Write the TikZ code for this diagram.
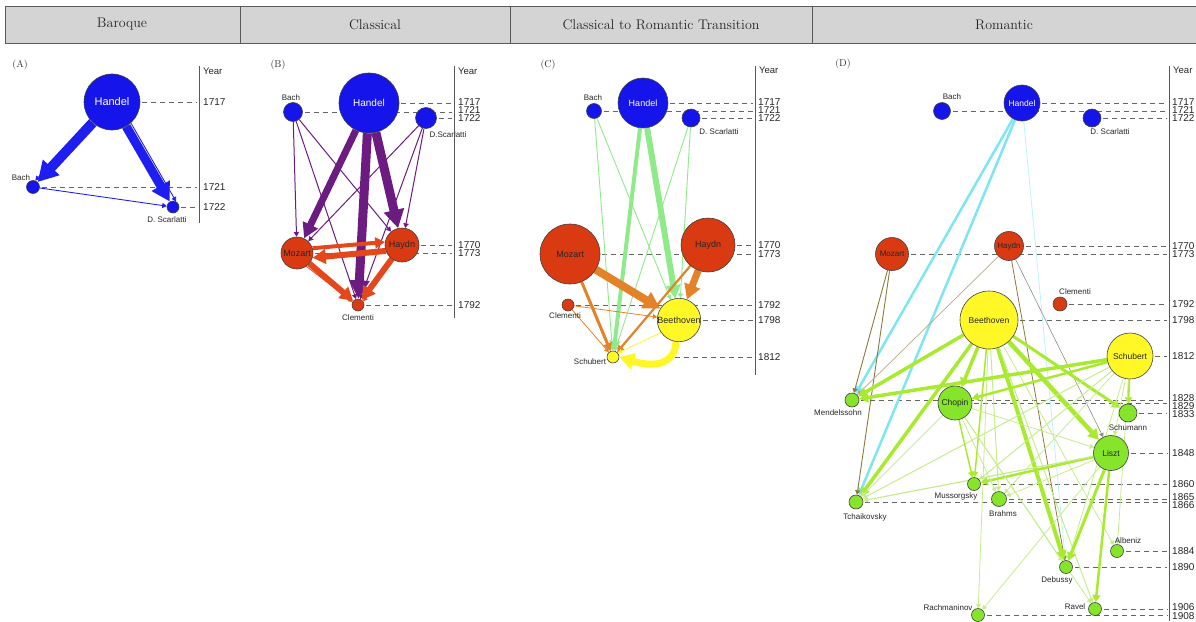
\documentclass[tikz,border=0pt]{standalone}
\usepackage{fontspec}
\setsansfont{Liberation Sans}
\usetikzlibrary{arrows.meta}
\newcommand\fsz[1]{\fontsize{#1}{#1}\selectfont}

\definecolor{hdrgray}{HTML}{D4D4D4}
\definecolor{nblue}{HTML}{1414EB}
\definecolor{nred}{HTML}{DA3A12}
\definecolor{nyel}{HTML}{FFF826}
\definecolor{ngreen}{HTML}{86E42A}
\definecolor{eblue}{HTML}{1E1EF0}
\definecolor{epurple}{HTML}{6C1C80}
\definecolor{ered}{HTML}{E5471D}
\definecolor{egreen}{HTML}{8FEA8A}
\definecolor{eorange}{HTML}{E4822A}
\definecolor{eyellow}{HTML}{FFF626}
\definecolor{ecyan}{HTML}{7DE6F0}
\definecolor{ecyanlt}{HTML}{BDF2F6}
\definecolor{elime}{HTML}{A8EA2E}
\definecolor{elimelt}{HTML}{C6EC8E}
\definecolor{eolive}{HTML}{8C7A3C}
\definecolor{etan}{HTML}{B8A888}

\pgfdeclarelayer{guides}
\pgfdeclarelayer{links}
\pgfsetlayers{guides,links,main}

\tikzset{
  comp/.style={circle, draw=black!75, line width=0.6pt, inner sep=0pt,
    font=\sffamily\fsz{8}, text=black!85},
  bn/.style={comp, fill=nblue},
  rn/.style={comp, fill=nred},
  yn/.style={comp, fill=nyel},
  gn/.style={comp, fill=ngreen},
  lab/.style={font=\sffamily\fsz{8}, text=black!85, inner sep=0pt},
  guide/.style={draw=black!60, line width=0.8pt, dash pattern=on 5pt off 4pt,
    shorten <=2pt, shorten >=2pt},
  axisline/.style={draw=black!65, line width=1pt},
  yrlab/.style={font=\sffamily\fsz{10}, anchor=west, inner sep=0pt, text=black!85},
  yrhead/.style={font=\sffamily\fsz{9.5}, anchor=west, inner sep=0pt, text=black!85},
  link/.style={-{Triangle[length=3pt 1.7, width=3.5pt 1.8]}},
  hdr/.style={font=\fsz{14}, text=black!85},
  plab/.style={font=\fsz{10}, text=black!80, inner sep=0pt},
}

\begin{document}
\begin{tikzpicture}[x=1pt,y=-1pt]
\useasboundingbox (0,0) rectangle (1196,621);

% ---------- period header ----------
\draw[fill=hdrgray, draw=black!65, line width=0.8pt] (5,6) rectangle (1200,43);
\draw[black!65, line width=0.8pt] (240,6) -- (240,43) (510,6) -- (510,43) (812,6) -- (812,43);
\node[hdr] (hBaroque) at (122,24.5) {Baroque};
\node[hdr] (hClassical) at (375,24.5) {Classical};
\node[hdr] (hTransition) at (661,24.5) {Classical to Romantic Transition};
\node[hdr] (hRomantic) at (1004,24.5) {Romantic};

% ---------- panel A ----------
\node[plab] (pA) at (20,65) {(A)};
\node[bn, minimum size=56pt, font=\sffamily\fsz{11}, text=white] (AHan) at (112,102) {Handel};
\node[bn, minimum size=13pt] (ABach) at (33,187) {};
\node[lab] (ABachL) at (21,178) {Bach};
\node[bn, minimum size=12pt] (AScar) at (173,207) {};
\node[lab] (AScarL) at (167,220) {D. Scarlatti};
\coordinate (axA) at (199,0);
\draw[axisline] (199,66) -- (199,223);
\node[yrhead] (AYear) at (203,71) {Year};
\node[yrlab] (A1717) at (203,102) {1717};
\node[yrlab] (A1721) at (203,187) {1721};
\node[yrlab] (A1722) at (203,207) {1722};

% ---------- panel B ----------
\node[plab] (pB) at (278,65) {(B)};
\node[bn, minimum size=60pt, font=\sffamily\fsz{10}, text=white] (BHan) at (369,103) {Handel};
\node[bn, minimum size=19pt] (BBach) at (293,112) {};
\node[lab] (BBachL) at (291,98) {Bach};
\node[bn, minimum size=21pt] (BScar) at (426,118) {};
\node[lab] (BScarL) at (448,135) {D.Scarlatti};
\node[rn, minimum size=32pt, font=\sffamily\fsz{9}] (BMoz) at (297,253) {Mozart};
\node[rn, minimum size=34pt, font=\sffamily\fsz{9}] (BHay) at (402,245) {Haydn};
\node[rn, minimum size=12pt] (BCle) at (358,305) {};
\node[lab] (BCleL) at (358,318) {Clementi};
\coordinate (axB) at (454,0);
\draw[axisline] (454,66) -- (454,318);
\node[yrhead] (BYear) at (458,71) {Year};
\node[yrlab] (B1717) at (458,102) {1717};
\node[yrlab] (B1721) at (458,110) {1721};
\node[yrlab] (B1722) at (458,118) {1722};
\node[yrlab] (B1770) at (458,245) {1770};
\node[yrlab] (B1773) at (458,253) {1773};
\node[yrlab] (B1792) at (458,305) {1792};

% ---------- panel C ----------
\node[plab] (pC) at (548,65) {(C)};
\node[bn, minimum size=50pt, font=\sffamily\fsz{9}, text=white] (CHan) at (643,103) {Handel};
\node[bn, minimum size=15pt] (CBach) at (594,111) {};
\node[lab] (CBachL) at (593,98) {Bach};
\node[bn, minimum size=18pt] (CScar) at (691,118) {};
\node[lab] (CScarL) at (719,132) {D. Scarlatti};
\node[rn, minimum size=60pt, font=\sffamily\fsz{9}] (CMoz) at (570,254) {Mozart};
\node[rn, minimum size=54pt, font=\sffamily\fsz{9}] (CHay) at (708,245) {Haydn};
\node[rn, minimum size=12pt] (CCle) at (568,305) {};
\node[lab] (CCleL) at (565,316) {Clementi};
\node[yn, minimum size=40pt, font=\sffamily\fsz{9}] (CBee) at (679,320) {Beethoven};
\node[yn, minimum size=12pt] (CSch) at (613,357) {};
\node[lab] (CSchL) at (590,362) {Schubert};
\coordinate (axC) at (755,0);
\draw[axisline] (755,66) -- (755,375);
\node[yrhead] (CYear) at (759,70) {Year};
\node[yrlab] (C1717) at (758,102) {1717};
\node[yrlab] (C1721) at (758,110) {1721};
\node[yrlab] (C1722) at (758,118) {1722};
\node[yrlab] (C1770) at (758,245) {1770};
\node[yrlab] (C1773) at (758,254) {1773};
\node[yrlab] (C1792) at (758,305) {1792};
\node[yrlab] (C1798) at (758,320) {1798};
\node[yrlab] (C1812) at (758,357) {1812};

% ---------- panel D ----------
\node[plab] (pD) at (843,64) {(D)};
\node[bn, minimum size=17pt] (DBach) at (942,111) {};
\node[lab] (DBachL) at (952,97) {Bach};
\node[bn, minimum size=36pt, font=\sffamily\fsz{8.5}, text=white] (DHan) at (1022,103) {Handel};
\node[bn, minimum size=18pt] (DScar) at (1092,118) {};
\node[lab] (DScarL) at (1110,132) {D. Scarlatti};
\node[rn, minimum size=29pt] (DHay) at (1009,246) {Haydn};
\node[rn, minimum size=33pt] (DMoz) at (892,254) {Mozart};
\node[rn, minimum size=14pt] (DCle) at (1060,304) {};
\node[lab] (DCleL) at (1075,292) {Clementi};
\node[yn, minimum size=58pt, font=\sffamily\fsz{8.5}] (DBee) at (989,320) {Beethoven};
\node[yn, minimum size=46pt, font=\sffamily\fsz{8.5}] (DSch) at (1130,356) {Schubert};
\node[gn, minimum size=14pt] (DMen) at (852,400) {};
\node[lab] (DMenL) at (838,413) {Mendelssohn};
\node[gn, minimum size=34pt, font=\sffamily\fsz{8.5}] (DCho) at (955,403) {Chopin};
\node[gn, minimum size=18pt] (DSchu) at (1128,413) {};
\node[lab] (DSchuL) at (1128,428) {Schumann};
\node[gn, minimum size=35pt, font=\sffamily\fsz{8.5}] (DLis) at (1111,453) {Liszt};
\node[gn, minimum size=13pt] (DMus) at (974,484) {};
\node[lab] (DMusL) at (956,496) {Mussorgsky};
\node[gn, minimum size=15pt] (DBra) at (999,499) {};
\node[lab] (DBraL) at (1003,514) {Brahms};
\node[gn, minimum size=14pt] (DTch) at (856,502) {};
\node[lab] (DTchL) at (865,517) {Tchaikovsky};
\node[gn, minimum size=13pt] (DAlb) at (1117,551) {};
\node[lab] (DAlbL) at (1128,541) {Albeniz};
\node[gn, minimum size=13pt] (DDeb) at (1066,567) {};
\node[lab] (DDebL) at (1057,580) {Debussy};
\node[gn, minimum size=13pt] (DRav) at (1095,609) {};
\node[lab] (DRavL) at (1075,607) {Ravel};
\node[gn, minimum size=13pt] (DRac) at (978,615) {};
\node[lab] (DRacL) at (948,608) {Rachmaninov};
\coordinate (axD) at (1169,0);
\draw[axisline] (1169,66) -- (1169,621);
\node[yrhead] (DYear) at (1173,70) {Year};
\node[yrlab] (D1717) at (1172,102) {1717};
\node[yrlab] (D1721) at (1172,110) {1721};
\node[yrlab] (D1722) at (1172,118) {1722};
\node[yrlab] (D1770) at (1172,246) {1770};
\node[yrlab] (D1773) at (1172,254) {1773};
\node[yrlab] (D1792) at (1172,304) {1792};
\node[yrlab] (D1798) at (1172,320) {1798};
\node[yrlab] (D1812) at (1172,356) {1812};
\node[yrlab] (D1828) at (1172,398) {1828};
\node[yrlab] (D1829) at (1172,406) {1829};
\node[yrlab] (D1833) at (1172,414) {1833};
\node[yrlab] (D1848) at (1172,453) {1848};
\node[yrlab] (D1860) at (1172,484) {1860};
\node[yrlab] (D1865) at (1172,497) {1865};
\node[yrlab] (D1866) at (1172,505) {1866};
\node[yrlab] (D1884) at (1172,551) {1884};
\node[yrlab] (D1890) at (1172,567) {1890};
\node[yrlab] (D1906) at (1172,607) {1906};
\node[yrlab] (D1908) at (1172,616) {1908};

% ---------- year guide lines ----------
\begin{pgfonlayer}{guides}
  \foreach \n in {AHan,ABach,AScar}
    \draw[guide] (\n.east) -- (\n.east -| axA);
  \foreach \n in {BHan,BBach,BScar,BMoz,BHay,BCle}
    \draw[guide] (\n.east) -- (\n.east -| axB);
  \foreach \n in {CHan,CBach,CScar,CMoz,CHay,CCle,CBee}
    \draw[guide] (\n.east) -- (\n.east -| axC);
  \coordinate (CSchG) at (664,357);
  \draw[guide] (CSchG) -- (CSchG -| axC);
  \foreach \n in {DHan,DBach,DScar,DMoz,DHay,DCle,DBee,DSch,DMen,DCho,DSchu,
                  DLis,DMus,DBra,DTch,DAlb,DDeb,DRav,DRac}
    \draw[guide] (\n.east) -- (\n.east -| axD);
\end{pgfonlayer}

% ---------- influence links ----------
\begin{pgfonlayer}{links}
  % Baroque
  \draw[link, draw=eblue, line width=10pt] (AHan) -- (ABach);
  \draw[link, draw=eblue, line width=9pt] (AHan) -- (AScar);
  \draw[link, draw=eblue, line width=0.9pt] (AHan.218) -- (ABach.70);
  \draw[link, draw=eblue, line width=0.9pt] (AHan.312) -- (AScar.60);
  \draw[link, draw=eblue, line width=0.9pt] (ABach) -- (AScar);

  % Classical
  \draw[link, draw=epurple, line width=7pt] (BHan) -- (BMoz);
  \draw[link, draw=epurple, line width=9pt] (BHan) -- (BCle);
  \draw[link, draw=epurple, line width=9pt] (BHan) -- (BHay);
  \foreach \s in {BBach,BScar}
    \foreach \t in {BMoz,BHay,BCle}
      \draw[link, draw=epurple, line width=1pt] (\s) -- (\t);
  \draw[link, draw=ered, line width=4pt] (BMoz.17) -- (BHay.170);
  \draw[link, draw=ered, line width=6pt] (BHay.200) -- (BMoz.343);
  \draw[link, draw=ered, line width=6pt] (BMoz) -- (BCle);
  \draw[link, draw=ered, line width=6pt] (BHay) -- (BCle);
  \draw[link, draw=ered, line width=0.8pt] (BMoz.305) -- (BCle.150);
  \draw[link, draw=ered, line width=0.8pt] (BHay.238) -- (BCle.35);

  % Transition
  \draw[link, draw=egreen, line width=6pt] (CHan) -- (CBee);
  \draw[link, draw=egreen, line width=4pt] (CHan) -- (CSch);
  \foreach \s in {CBach,CScar}
    \foreach \t in {CSch,CBee}
      \draw[link, draw=egreen, line width=0.9pt] (\s) -- (\t);
  \draw[link, draw=eorange, line width=8pt] (CMoz) -- (CBee);
  \draw[link, draw=eorange, line width=7pt] (CHay) -- (CBee);
  \draw[link, draw=eorange, line width=3pt] (CMoz) -- (CSch);
  \draw[link, draw=eorange, line width=2.2pt] (CHay) -- (CSch);
  \draw[link, draw=eorange, line width=0.8pt] (CCle) -- (CBee);
  \draw[link, draw=eorange, line width=0.8pt] (CCle) -- (CSch);
  \draw[link, draw=eyellow, line width=0.8pt] (CBee.215) -- (CSch.40);
  \draw[link, draw=eyellow, line width=7pt] (CBee.262) .. controls (675,364) and (655,368) .. (CSch.east);

  % Romantic: Baroque and Classical sources
  \draw[link, draw=ecyan, line width=2.5pt] (DHan) -- (DMen);
  \draw[link, draw=ecyan, line width=2.5pt] (DHan) -- (DTch);
  \draw[link, draw=ecyanlt, line width=0.8pt] (DHan) -- (DDeb);
  \draw[link, draw=eolive, line width=0.9pt] (DMoz) -- (DMen);
  \draw[link, draw=eolive, line width=0.9pt] (DMoz) -- (DTch);
  \draw[link, draw=etan, line width=0.7pt] (DHay) -- (DMen);
  \draw[link, draw=eolive, line width=0.8pt] (DHay) -- (DDeb);
  \draw[link, draw=black!45, line width=0.6pt] (DHay) -- (DLis);

  % Romantic: Beethoven
  \draw[link, draw=elime, line width=3.5pt] (DBee) -- (DMen);
  \draw[link, draw=elime, line width=3.5pt] (DBee) -- (DCho);
  \draw[link, draw=elime, line width=3.5pt] (DBee) -- (DTch);
  \draw[link, draw=elime, line width=4.5pt] (DBee) -- (DLis);
  \draw[link, draw=elime, line width=3pt] (DBee) -- (DSchu);
  \draw[link, draw=elime, line width=4pt] (DBee) -- (DDeb);
  \draw[link, draw=elime, line width=1.5pt] (DBee) -- (DMus);
  \draw[link, draw=elimelt, line width=1pt] (DBee) -- (DBra);
  \draw[link, draw=elimelt, line width=1pt] (DBee) -- (DRav);
  \draw[link, draw=elimelt, line width=0.8pt] (DBee) -- (DRac);
  \draw[link, draw=elimelt, line width=0.8pt] (DBee) -- (DAlb);

  % Romantic: Schubert
  \draw[link, draw=elime, line width=3.5pt] (DSch) -- (DMen);
  \draw[link, draw=elime, line width=2.5pt] (DSch) -- (DCho);
  \draw[link, draw=elime, line width=2pt] (DSch) -- (DSchu);
  \draw[link, draw=elimelt, line width=1pt] (DSch) -- (DMus);
  \draw[link, draw=elimelt, line width=1pt] (DSch) -- (DTch);
  \draw[link, draw=elimelt, line width=0.8pt] (DSch) -- (DBra);
  \draw[link, draw=elimelt, line width=0.8pt] (DSch) -- (DDeb);
  \draw[link, draw=elimelt, line width=0.8pt] (DSch) -- (DAlb);
  \draw[link, draw=elimelt, line width=0.8pt] (DSch) -- (DLis);

  % Romantic: Liszt
  \draw[link, draw=elime, line width=2.5pt] (DLis) -- (DMus);
  \draw[link, draw=elime, line width=3pt] (DLis) -- (DDeb);
  \draw[link, draw=elime, line width=2.5pt] (DLis) -- (DRav);
  \draw[link, draw=elimelt, line width=1.2pt] (DLis) -- (DTch);
  \draw[link, draw=elimelt, line width=0.8pt] (DLis) -- (DRac);
  \draw[link, draw=elimelt, line width=0.8pt] (DLis) -- (DBra);

  % Romantic: Chopin
  \draw[link, draw=elime, line width=1.5pt] (DCho) -- (DMus);
  \draw[link, draw=elimelt, line width=1pt] (DCho) -- (DTch);
  \draw[link, draw=elimelt, line width=0.8pt] (DCho) -- (DLis);
  \draw[link, draw=elimelt, line width=0.8pt] (DCho) -- (DDeb);
  \draw[link, draw=elimelt, line width=0.8pt] (DCho) -- (DBra);
  \draw[link, draw=elimelt, line width=0.8pt] (DCho) -- (DRav);
\end{pgfonlayer}
\end{tikzpicture}
\end{document}
